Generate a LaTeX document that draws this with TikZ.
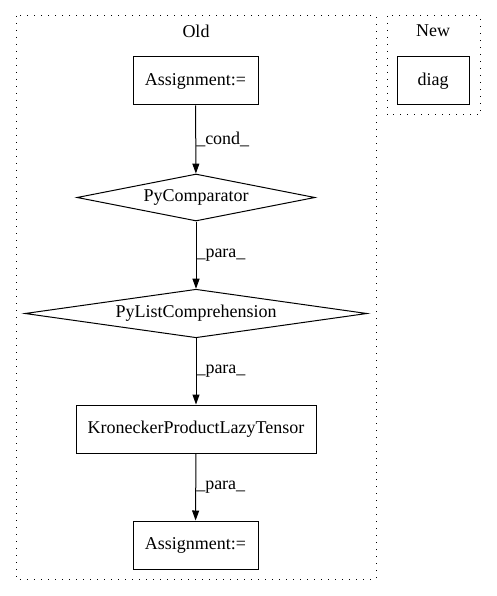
\documentclass[tikz,border=0pt]{standalone}
\usepackage{fontspec}
\setmainfont{Liberation Serif}
\usetikzlibrary{shapes.geometric,arrows.meta}
\begin{document}
\begin{tikzpicture}[x=1pt, y=-1pt,
  every node/.style={font=\fontsize{18}{21}\selectfont},
  box/.style={draw, line width=1pt, minimum width=#1, minimum height=48pt, inner sep=0pt},
  cond/.style={draw, diamond, aspect=5, line width=1pt, minimum width=#1, minimum height=47pt, inner sep=0pt},
  cluster/.style={line width=1pt, dash pattern=on 1.4pt off 5.6pt},
  flow/.style={line width=1pt, -{Triangle[length=10pt, width=7pt]}},
  lbl/.style={anchor=west, inner sep=0pt}]
  \useasboundingbox (0,0) rectangle (496,596);
  % clusters
  \draw[cluster] (16,16) rectangle (376,579);
  \node (old) at (196,31) {Old};
  \draw[cluster] (387,16) rectangle (480,115);
  \node (new) at (433,31) {New};
  % new side
  \node[box=72pt] (diag) at (433,81) {diag};
  % old side
  \node[box=125pt] (asgtop) at (195.5,81) {Assignment:=};
  \node[cond=238pt] (cmp) at (196,197.5) {PyComparator};
  \node[cond=342pt] (listcomp) at (196,313.5) {PyListComprehension};
  \node[box=240pt] (kron) at (196,429) {KroneckerProductLazyTensor};
  \node[box=125pt] (asgbot) at (195.5,545) {Assignment:=};
  % edges
  \draw[flow] (asgtop) -- (cmp) node[lbl, midway] (l1) {\_cond\_};
  \draw[flow] (cmp) -- (listcomp) node[lbl, midway] (l2) {\_para\_};
  \draw[flow] (listcomp) -- (kron) node[lbl, midway] (l3) {\_para\_};
  \draw[flow] (kron) -- (asgbot) node[lbl, midway] (l4) {\_para\_};
\end{tikzpicture}
\end{document}
